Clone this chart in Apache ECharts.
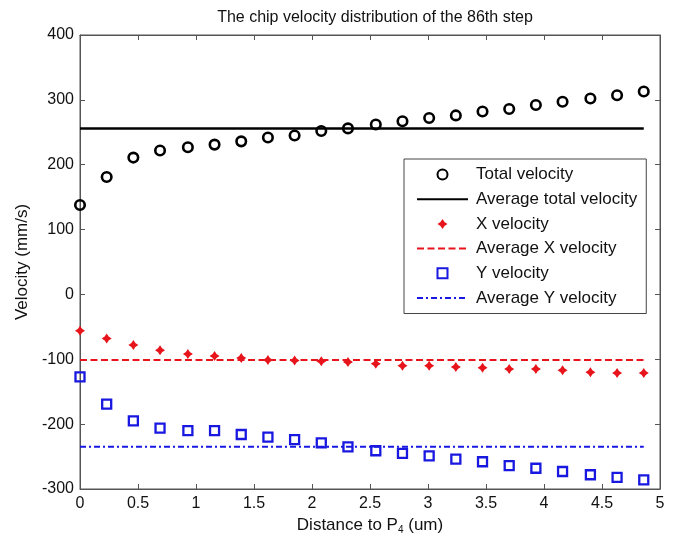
<!DOCTYPE html>
<html>
<head>
<meta charset="utf-8">
<script src="https://cdn.jsdelivr.net/npm/echarts@6/dist/echarts.min.js"></script>
<style>
  html, body { margin: 0; padding: 0; background: #fff; }
  #chart { width: 674px; height: 540px; }
</style>
</head>
<body>
<div id="chart"></div>
<script>
// Distance to P4 (um) of each sampled chip node
const distance = [0, 0.23, 0.46, 0.69, 0.93, 1.16, 1.39, 1.62, 1.85, 2.08, 2.31,
                  2.55, 2.78, 3.01, 3.24, 3.47, 3.70, 3.93, 4.16, 4.40, 4.63, 4.86];

// Velocities (mm/s)
const totalVelocity = [138, 181, 211, 222, 227, 231, 236, 242, 245, 252, 256,
                       262, 267, 272, 276, 282, 286, 292, 297, 302, 307, 313];
const xVelocity = [-56, -68, -78, -86, -92, -95, -98, -101, -102, -103, -104,
                   -107, -110, -110, -112, -113, -115, -115, -117, -120, -121, -121];
const yVelocity = [-127, -169, -195, -206, -210, -210, -216, -220, -224, -229, -235,
                   -241, -245, -249, -254, -258, -264, -268, -273, -278, -282, -286];

// Averages over the whole chip
const avgTotal = 256;
const avgX = -101;
const avgY = -235;

const xTicks = ['0', '0.5', '1', '1.5', '2', '2.5', '3', '3.5', '4', '4.5', '5'];
const yTicks = ['-300', '-200', '-100', '0', '100', '200', '300', '400'];

const pairs = (vals) => distance.map((d, i) => [d, vals[i]]);
const span = (v) => [[distance[0], v], [distance[distance.length - 1], v]];

const FONT = '"Liberation Sans", Arial, sans-serif';
const AXIS_COLOR = '#555';
const TEXT_COLOR = '#111';
const RED = '#e8141c';
const BLUE = '#1818e0';
const starPath = 'path://M0,-5 L2,-2 L5,0 L2,2 L0,5 L-2,2 L-5,0 L-2,-2 Z';
const squarePath = 'path://M0,0 L10,0 L10,10 L0,10 Z';

const chart = echarts.init(document.getElementById('chart'), null, { renderer: 'canvas' });

const xLabel = (v) => {
  const s = String(Math.round(v * 10) / 10);
  return xTicks.includes(s) ? s : '';
};
const yLabel = (v) => yTicks.includes(String(v)) ? String(v) : '';

// Frame axes: the mirrored ticks on the top and right edges
const mirrorAxis = (pos) => ({
  position: pos,
  axisLine: { show: true, onZero: false, lineStyle: { color: AXIS_COLOR } },
  axisTick: { show: true, inside: true, length: 5, lineStyle: { color: AXIS_COLOR } },
  axisLabel: { show: false },
  splitLine: { show: false }
});

chart.setOption({
  animation: false,
  backgroundColor: '#fff',
  textStyle: { fontFamily: FONT },
  title: {
    text: 'The chip velocity distribution of the 86th step',
    left: 370, top: 5, textAlign: 'center',
    textStyle: { fontFamily: FONT, fontSize: 16, fontWeight: 'normal', color: TEXT_COLOR }
  },
  grid: {
    left: 80, right: 14, top: 35, bottom: 45,
    show: true, borderColor: AXIS_COLOR, borderWidth: 1, backgroundColor: '#fff'
  },
  legend: {
    orient: 'vertical',
    left: 404, top: 159,
    padding: [7, 9, 7, 12],
    itemWidth: 51, itemHeight: 10, itemGap: 7.7,
    backgroundColor: '#fff',
    borderColor: '#444', borderWidth: 1, borderRadius: 0,
    textStyle: { fontFamily: FONT, fontSize: 17, color: TEXT_COLOR, padding: [0, 0, 0, 3] },
    data: [
      { name: 'Total velocity', icon: 'circle' },
      { name: 'Average total velocity', itemStyle: { opacity: 0 } },
      { name: 'X velocity', icon: starPath },
      { name: 'Average X velocity', itemStyle: { opacity: 0 } },
      { name: 'Y velocity', icon: squarePath },
      { name: 'Average Y velocity', itemStyle: { opacity: 0 } }
    ]
  },
  xAxis: [{
    type: 'value', min: 0, max: 5, interval: 0.5,
    name: 'Distance to P{sub|4} (um)',
    nameLocation: 'middle', nameGap: 27,
    nameTextStyle: {
      fontFamily: FONT, fontSize: 17, color: TEXT_COLOR,
      rich: { sub: { fontFamily: FONT, fontSize: 10, color: TEXT_COLOR, padding: [9, 0, 0, 0] } }
    },
    axisLine: { show: true, onZero: false, lineStyle: { color: AXIS_COLOR, width: 1 } },
    axisTick: { show: true, inside: true, length: 5, lineStyle: { color: AXIS_COLOR } },
    axisLabel: { fontFamily: FONT, fontSize: 16, color: TEXT_COLOR, margin: 7, formatter: xLabel },
    splitLine: { show: false }
  }, Object.assign({ type: 'value', min: 0, max: 5, interval: 0.5 }, mirrorAxis('top'))],
  yAxis: [{
    type: 'value', min: -300, max: 400, interval: 100,
    name: 'Velocity (mm/s)',
    nameLocation: 'middle', nameGap: 49,
    nameTextStyle: { fontFamily: FONT, fontSize: 17, color: TEXT_COLOR },
    axisLine: { show: true, onZero: false, lineStyle: { color: AXIS_COLOR, width: 1 } },
    axisTick: { show: true, inside: true, length: 5, lineStyle: { color: AXIS_COLOR } },
    axisLabel: { fontFamily: FONT, fontSize: 16, color: TEXT_COLOR, margin: 6, formatter: yLabel },
    splitLine: { show: false }
  }, Object.assign({ type: 'value', min: -300, max: 400, interval: 100 }, mirrorAxis('right'))],
  series: [
    {
      name: 'Average total velocity', type: 'line', data: span(avgTotal),
      symbol: 'none', lineStyle: { color: '#000', width: 2.5 },
      itemStyle: { color: '#000' }, z: 2
    },
    {
      name: 'Average X velocity', type: 'line', data: span(avgX),
      symbol: 'none', lineStyle: { color: RED, width: 2, type: [7, 3.5] },
      itemStyle: { color: RED }, z: 2
    },
    {
      name: 'Average Y velocity', type: 'line', data: span(avgY),
      symbol: 'none', lineStyle: { color: BLUE, width: 2, type: [6, 3, 2, 3] },
      itemStyle: { color: BLUE }, z: 2
    },
    {
      name: 'Total velocity', type: 'scatter', data: pairs(totalVelocity),
      symbol: 'circle', symbolSize: 9.5,
      itemStyle: { color: 'rgba(0,0,0,0)', borderColor: '#000', borderWidth: 2.6, opacity: 1 }, z: 3
    },
    {
      name: 'X velocity', type: 'scatter', data: pairs(xVelocity),
      symbol: starPath, symbolSize: 10,
      itemStyle: { color: RED, opacity: 1 }, z: 3
    },
    {
      name: 'Y velocity', type: 'scatter', data: pairs(yVelocity),
      symbol: 'rect', symbolSize: 9,
      itemStyle: { color: 'rgba(0,0,0,0)', borderColor: BLUE, borderWidth: 2.3, opacity: 1 }, z: 3
    }
  ]
});
</script>
</body>
</html>
